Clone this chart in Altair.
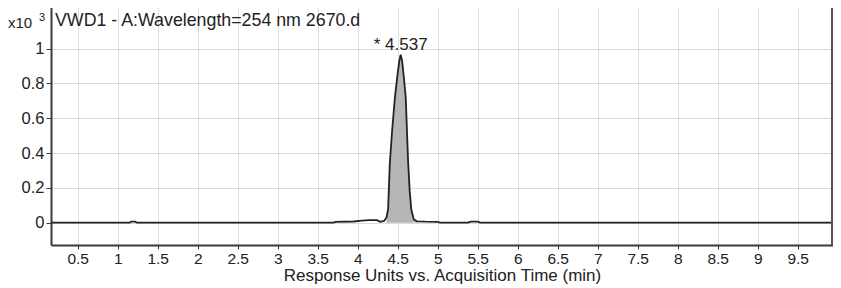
import altair as alt
import pandas as pd

# ---- data ----
time_min = [0.17, 1.15, 1.17, 1.22, 1.24, 3.70, 3.72, 3.95, 4.05, 4.15, 4.24, 4.28,
            4.33, 4.36, 4.38, 4.40, 4.43, 4.466, 4.50, 4.52, 4.537, 4.555, 4.58,
            4.60, 4.63, 4.65, 4.67, 4.70, 4.74, 4.85, 5.00, 5.03, 5.38, 5.41, 5.50,
            5.53, 10.0]
response = [0.0, 0.0, 0.006, 0.006, 0.0, 0.0, 0.005, 0.007, 0.012, 0.015, 0.015, 0.005,
            0.010, 0.030, 0.080, 0.330, 0.530, 0.725, 0.860, 0.930, 0.965, 0.930, 0.820,
            0.720, 0.350, 0.180, 0.076, 0.020, 0.008, 0.006, 0.005, 0.001, 0.001, 0.006, 0.006,
            0.001, 0.0]
peak_start = 4.36
peak_end = 4.74
peak_time = [4.537]
peak_height = [0.965]
peak_label = ["* 4.537"]
x_ticks = [0.5, 1, 1.5, 2, 2.5, 3, 3.5, 4, 4.5, 5, 5.5, 6, 6.5, 7, 7.5, 8, 8.5, 9, 9.5]
y_ticks = [0, 0.2, 0.4, 0.6, 0.8, 1]
title_text = ["VWD1 - A:Wavelength=254 nm 2670.d"]
x_title = "Response Units vs. Acquisition Time (min)"
scale_text = ["x10"]
scale_exp = ["3"]

W, H = 782, 240
FONT = "Liberation Sans"

df = pd.DataFrame({"t": time_min, "r": response})
df_peak = df[(df.t >= peak_start) & (df.t <= peak_end)]

xs = alt.Scale(domain=[0.166, 9.941], nice=False, zero=False)
ys = alt.Scale(domain=[-0.128, 1.251], nice=False, zero=False)

x_axis = alt.Axis(values=x_ticks, format="~g", title=x_title, grid=True,
                  gridColor="#dcdcdc", domainColor="#3a3a3a", domainWidth=2,
                  tickColor="#3a3a3a", tickSize=4, labelFontSize=15.5,
                  labelColor="#222", labelPadding=2, labelFont=FONT,
                  titleFont=FONT, titleFontSize=17, titleFontWeight="normal",
                  titleColor="#222", titlePadding=1, labelFlush=False)
y_axis = alt.Axis(values=y_ticks, format="~g", title=None, grid=True,
                  gridColor="#dcdcdc", domainColor="#3a3a3a", domainWidth=2,
                  tickColor="#3a3a3a", tickSize=5, labelFontSize=16.5,
                  labelColor="#222", labelPadding=2, labelFont=FONT)

area = alt.Chart(df_peak).mark_area(color="#b5b5b5", opacity=1).encode(
    x=alt.X("t:Q", scale=xs, axis=x_axis),
    y=alt.Y("r:Q", scale=ys, axis=y_axis),
)
line = alt.Chart(df).mark_line(color="#222", strokeWidth=1.8).encode(
    x=alt.X("t:Q", scale=xs),
    y=alt.Y("r:Q", scale=ys),
)
peak = alt.Chart(pd.DataFrame({"t": peak_time, "r": peak_height, "lab": peak_label})).mark_text(
    font=FONT, fontSize=17, color="#222", align="center", baseline="bottom", dy=-1
).encode(x=alt.X("t:Q", scale=xs), y=alt.Y("r:Q", scale=ys), text="lab:N")

title = alt.Chart(pd.DataFrame({"lab": title_text})).mark_text(
    font=FONT, fontSize=17.8, color="#222", align="left", baseline="middle"
).encode(x=alt.value(4), y=alt.value(16), text="lab:N")

scale1 = alt.Chart(pd.DataFrame({"lab": scale_text})).mark_text(
    font=FONT, fontSize=15, color="#222", align="left", baseline="middle"
).encode(x=alt.value(-43), y=alt.value(18), text="lab:N")
scale2 = alt.Chart(pd.DataFrame({"lab": scale_exp})).mark_text(
    font=FONT, fontSize=11, color="#222", align="left", baseline="middle"
).encode(x=alt.value(-12), y=alt.value(13), text="lab:N")

right_border = alt.Chart(pd.DataFrame({"a": [0]})).mark_rule(
    color="#555", strokeWidth=2
).encode(x=alt.value(W - 1), y=alt.value(0), y2=alt.value(H))

chart = alt.layer(area, line, peak, title, scale1, scale2, right_border).properties(
    width=W, height=H,
    autosize=alt.AutoSizeParams(type="none"),
    padding={"left": 43, "top": -3, "right": 0, "bottom": 42},
).configure_view(stroke="#cccccc", strokeWidth=1.5).configure(background="white")

chart.save("out.html", embed_options={"renderer": "svg", "actions": False})
